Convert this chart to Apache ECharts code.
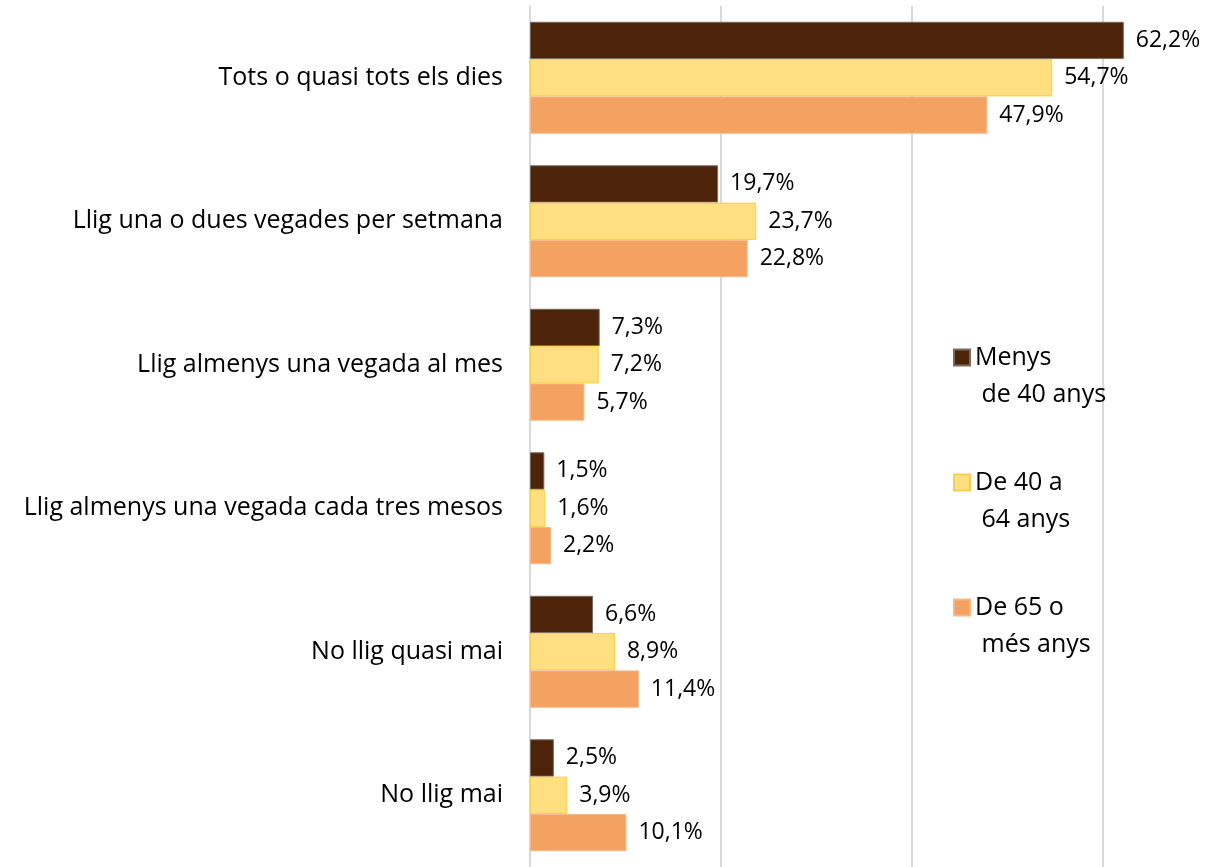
<!DOCTYPE html>
<html>
<head>
<meta charset="utf-8">
<script src="https://cdn.jsdelivr.net/npm/echarts@6/dist/echarts.min.js"></script>
<style>
  html, body { margin: 0; padding: 0; background: #fff; }
  #chart { width: 1212px; height: 867px; }
</style>
</head>
<body>
<div id="chart"></div>
<script>
// dades llegides del gràfic (%)
var categories = [
  'Tots o quasi tots els dies',
  'Llig una o dues vegades per setmana',
  'Llig almenys una vegada al mes',
  'Llig almenys una vegada cada tres mesos',
  'No llig quasi mai',
  'No llig mai'
];
var seriesNames = ['Menys\n de 40 anys', 'De 40 a\n 64 anys', 'De 65 o\n més anys'];
var menys40 = [62.2, 19.7, 7.3, 1.5, 6.6, 2.5];
var de40a64 = [54.7, 23.7, 7.2, 1.6, 8.9, 3.9];
var de65 = [47.9, 22.8, 5.7, 2.2, 11.4, 10.1];
var xTicks = [0, 20, 40, 60];

var font = 'Open Sans';
var myChart = echarts.init(document.getElementById('chart'));

function pct(p) {
  return p.value.toFixed(1).replace('.', ',') + '%';
}

function barSeries(name, data, color, border) {
  return {
    name: name,
    type: 'bar',
    data: data,
    barGap: 0,
    barCategoryGap: '22%',
    itemStyle: {
      color: color,
      borderColor: border,
      borderWidth: 1
    },
    label: {
      show: true,
      position: 'right',
      distance: 12,
      formatter: pct,
      color: '#000',
      fontFamily: font,
      fontSize: 23
    }
  };
}

myChart.setOption({
  backgroundColor: '#fff',
  animation: false,
  grid: {
    left: 530,
    right: 71,
    top: 6,
    bottom: -3,
    containLabel: false
  },
  legend: {
    orient: 'vertical',
    left: 948,
    top: 297,
    itemWidth: 16,
    itemHeight: 16,
    itemGap: 14,
    icon: 'rect',
    data: seriesNames,
    // línia buida a dalt perquè el quadre quede alineat amb la primera línia
    formatter: function (name) {
      return '\n' + name;
    },
    textStyle: {
      fontFamily: font,
      fontSize: 25,
      color: '#000',
      lineHeight: 37
    }
  },
  xAxis: {
    type: 'value',
    min: xTicks[0],
    max: 64,
    interval: 20,
    axisLabel: { show: false },
    axisTick: { show: false },
    axisLine: { show: false },
    splitLine: {
      show: true,
      showMinLine: false,
      showMaxLine: false,
      lineStyle: { color: '#d9d9d9', width: 2 }
    }
  },
  yAxis: {
    type: 'category',
    inverse: true,
    data: categories,
    axisTick: { show: false },
    axisLine: { show: true, lineStyle: { color: '#d9d9d9', width: 2 } },
    axisLabel: {
      margin: 27,
      color: '#000',
      fontFamily: font,
      fontSize: 25
    }
  },
  series: [
    barSeries(seriesNames[0], menys40, '#4d2409', '#7a6a60'),
    barSeries(seriesNames[1], de40a64, '#ffdf80', '#f7cf4f'),
    barSeries(seriesNames[2], de65, '#f4a261', '#f7b889')
  ]
});
</script>
</body>
</html>
